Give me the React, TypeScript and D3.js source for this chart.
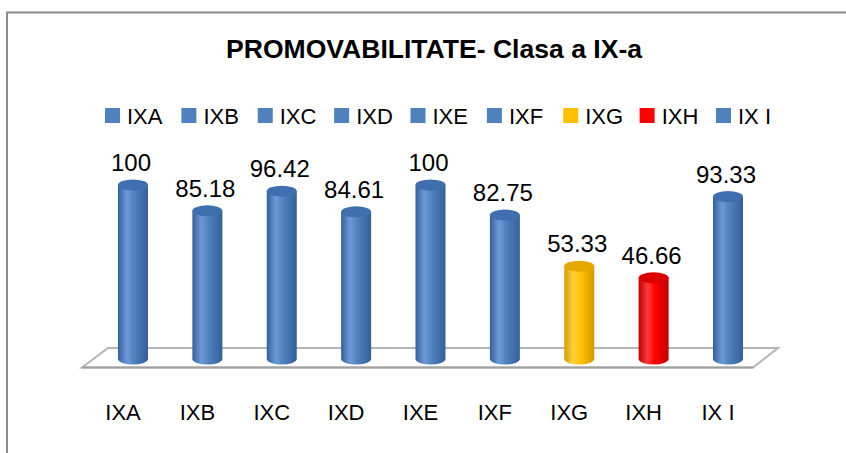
import React from "react";
import * as d3 from "d3";

const categories = ["IXA", "IXB", "IXC", "IXD", "IXE", "IXF", "IXG", "IXH", "IX I"];
const values = [100, 85.18, 96.42, 84.61, 100, 82.75, 53.33, 46.66, 93.33];
const valueLabels = ["100", "85.18", "96.42", "84.61", "100", "82.75", "53.33", "46.66", "93.33"];
const colorKeys = ["blue", "blue", "blue", "blue", "blue", "blue", "yellow", "red", "blue"];
const title = "PROMOVABILITATE- Clasa a IX-a";

const W = 846;
const H = 453;
const FONT = "'Liberation Sans', Arial, sans-serif";

const palette: Record<string, { base: string; dark: string; light: string; top: string }> = {
  blue: { base: "#4f81bd", dark: "#34609a", light: "#6d9ad6", top: "#3f6fae" },
  yellow: { base: "#ffc000", dark: "#d49a00", light: "#ffd23d", top: "#e5a800" },
  red: { base: "#ff0000", dark: "#c00000", light: "#ff3a3a", top: "#dd0000" },
};

export default function App() {
  const x = d3.scalePoint<string>().domain(categories).range([133, 728]);
  const y = d3.scaleLinear().domain([0, 100]).range([359, 185]);
  const legendX = d3.scalePoint<string>().domain(categories).range([105, 716]);
  const rx = 15;
  const ry = 5.5;

  return (
    <svg
      width={W}
      height={H}
      style={{ position: "absolute", left: 0, top: 0, background: "#fff" }}
      fontFamily={FONT}
    >
      <defs>
        {Object.entries(palette).map(([k, p]) => (
          <linearGradient key={k} id={`g-${k}`} x1="0" x2="1" y1="0" y2="0">
            <stop offset="0%" stopColor={p.dark} />
            <stop offset="30%" stopColor={p.light} />
            <stop offset="55%" stopColor={p.base} />
            <stop offset="100%" stopColor={p.dark} />
          </linearGradient>
        ))}
      </defs>
      <rect x={0} y={0} width={W} height={H} fill="#fff" />
      {/* chart border */}
      <path d={`M7,${H} V12.5 H${W}`} fill="none" stroke="#8c8c8c" strokeWidth={2} />

      {/* title */}
      <text
        x={434}
        y={58}
        textAnchor="middle"
        fontSize={26}
        fontWeight="bold"
        fill="#000"
        textLength={416}
        lengthAdjust="spacingAndGlyphs"
      >
        {title}
      </text>

      {/* legend */}
      {categories.map((c, i) => (
        <g key={c} transform={`translate(${legendX(c)},108)`}>
          <rect x={0} y={0} width={15} height={15} fill={palette[colorKeys[i]].base} />
          <text x={22} y={15.5} fontSize={22} fill="#000">
            {c}
          </text>
        </g>
      ))}

      {/* floor */}
      <polygon
        points="82,367.5 108,348 778,348 753,367.5"
        fill="#fff"
        stroke="#b5b5b5"
        strokeWidth={2}
      />
      <line x1={82} y1={367.5} x2={753} y2={367.5} stroke="#a0a0a0" strokeWidth={2} />

      {/* cylinders */}
      {categories.map((c, i) => {
        const cx = x(c)!;
        const yb = y(0);
        const yt = y(values[i]);
        const p = palette[colorKeys[i]];
        return (
          <g key={c}>
            <path
              d={`M${cx - rx},${yt} V${yb} A${rx},${ry} 0 0 0 ${cx + rx},${yb} V${yt} Z`}
              fill={`url(#g-${colorKeys[i]})`}
            />
            <ellipse cx={cx} cy={yt} rx={rx} ry={ry} fill={p.top} />
            <text x={cx - 2} y={yt - 14} textAnchor="middle" fontSize={24} fill="#000">
              {valueLabels[i]}
            </text>
          </g>
        );
      })}

      {/* category axis labels */}
      {categories.map((c) => (
        <text key={c} x={x(c)! - 10} y={420} textAnchor="middle" fontSize={22} fill="#000">
          {c}
        </text>
      ))}
    </svg>
  );
}
